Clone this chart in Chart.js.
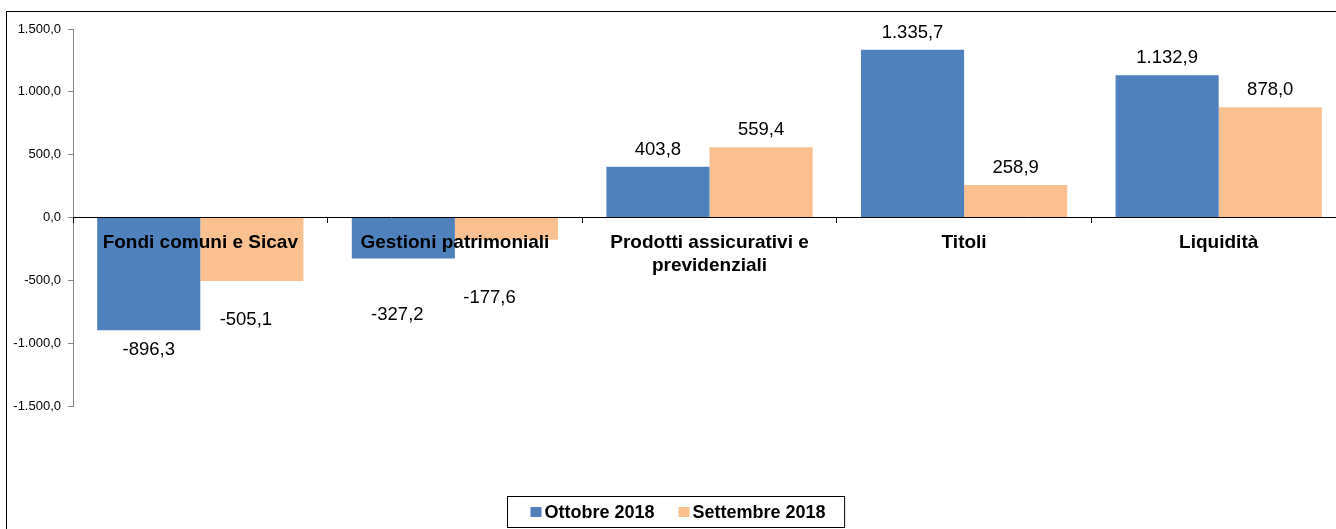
<!DOCTYPE html>
<html><head><meta charset="utf-8">
<script src="https://cdn.jsdelivr.net/npm/chart.js@4/dist/chart.umd.min.js"></script>
<style>
html,body{margin:0;padding:0;background:#fff;overflow:hidden;width:1336px;height:529px;}
#wrap{position:absolute;left:0;top:0;width:1352px;height:529px;}
</style></head><body>
<div id="wrap"><canvas id="c" width="1352" height="529"></canvas></div>
<script>
const categories = ['Fondi comuni e Sicav', 'Gestioni patrimoniali', ['Prodotti assicurativi e', 'previdenziali'], 'Titoli', 'Liquidità'];
const ottobre2018 = [-896.3, -327.2, 403.8, 1335.7, 1132.9];
const settembre2018 = [-505.1, -177.6, 559.4, 258.9, 878.0];
const seriesNames = ['Ottobre 2018', 'Settembre 2018'];
const yTicks = [-1500, -1000, -500, 0, 500, 1000, 1500];

const FONT = '"Liberation Sans", Arial, sans-serif';

function fmt(v) {
  const neg = v < 0;
  let s = Math.abs(v).toFixed(1);
  let [i, d] = s.split('.');
  i = i.replace(/\B(?=(\d{3})+(?!\d))/g, '.');
  return (neg ? '-' : '') + i + ',' + d;
}

const framePlugin = {
  id: 'framePlugin',
  beforeDraw(chart) {
    const ctx = chart.ctx;
    ctx.save();
    ctx.fillStyle = '#fff';
    ctx.fillRect(0, 0, chart.width, chart.height);
    ctx.strokeStyle = '#000';
    ctx.lineWidth = 1;
    ctx.strokeRect(6.5, 11.5, chart.width + 20, chart.height + 20);
    ctx.restore();
  },
  afterDatasetsDraw(chart, args, opts) {
    const ctx = chart.ctx;
    ctx.save();
    ctx.font = '18.5px ' + FONT;
    ctx.fillStyle = '#000';
    ctx.textAlign = 'center';
    ctx.textBaseline = 'middle';
    chart.data.datasets.forEach((ds, di) => {
      const meta = chart.getDatasetMeta(di);
      meta.data.forEach((bar, i) => {
        const v = ds.data[i];
        const sh = (opts.shift[di] && opts.shift[di][i]) || [0, 0];
        const y = v >= 0 ? bar.y - 17 : bar.y + 20;
        ctx.fillText(fmt(v), bar.x + sh[0], y + sh[1]);
      });
    });
    ctx.restore();
  },
  afterDraw(chart) {
    const ctx = chart.ctx;
    ctx.save();
    ctx.font = 'bold 18px ' + FONT;
    ctx.textBaseline = 'middle';
    ctx.textAlign = 'left';
    const items = chart.data.datasets.map(d => ({ text: d.label, color: d.backgroundColor, w: ctx.measureText(d.label).width }));
    const sq = 11, gapT = 3, gapI = 24, padL = 23, padR = 19;
    let total = 0;
    items.forEach((it, k) => { total += sq + gapT + it.w + (k ? gapI : 0); });
    const boxW = total + padL + padR;
    const bx = Math.round(chart.width / 2 - boxW / 2) + 0.5;
    const by = 496.5, bh = 31;
    ctx.strokeStyle = '#000';
    ctx.lineWidth = 1;
    ctx.strokeRect(bx, by, boxW, bh);
    let x = bx + padL;
    const cy = by + bh / 2;
    items.forEach((it, k) => {
      if (k) x += gapI;
      ctx.fillStyle = it.color;
      ctx.fillRect(x, cy - 5, sq, 10);
      x += sq + gapT;
      ctx.fillStyle = '#000';
      ctx.fillText(it.text, x, cy + 1);
      x += it.w;
    });
    ctx.restore();
  }
};

new Chart(document.getElementById('c'), {
  type: 'bar',
  data: {
    labels: categories,
    datasets: [
      { label: seriesNames[0], data: ottobre2018, backgroundColor: '#4F81BD', borderWidth: 0 },
      { label: seriesNames[1], data: settembre2018, backgroundColor: '#FAC090', borderWidth: 0 }
    ]
  },
  options: {
    responsive: false,
    animation: false,
    devicePixelRatio: 1,
    categoryPercentage: 0.81,
    barPercentage: 1,
    layout: { padding: { left: 0, right: 6, top: 29, bottom: 123 } },
    plugins: {
      legend: { display: false },
      tooltip: { enabled: false },
      framePlugin: {
        shift: [
          [[0, 0], [-6, 36], [0, 0], [0, 0], [0, 0]],
          [[-6, 19], [-17, 38], [0, 0], [0, 0], [0, 0]]
        ]
      }
    },
    scales: {
      x: {
        position: { y: 0 },
        grid: { display: true, drawOnChartArea: false, drawTicks: true, tickLength: 5, color: '#000', offset: true, z: 1 },
        border: { display: true, color: '#000', width: 1, z: 1 },
        ticks: {
          z: 1,
          color: '#000',
          padding: 9,
          maxRotation: 0,
          autoSkip: false,
          font: { family: FONT, size: 19, weight: 'bold', lineHeight: 1.2 }
        }
      },
      y: {
        min: -1500,
        max: 1500,
        afterBuildTicks: s => { s.ticks = yTicks.map(v => ({ value: v })); },
        afterFit: s => { s.width = 73; },
        grid: { display: true, drawOnChartArea: false, drawTicks: true, tickLength: 5, color: '#868686' },
        border: { display: true, color: '#868686', width: 1 },
        ticks: {
          color: '#000',
          padding: 7,
          font: { family: FONT, size: 13 },
          callback: v => fmt(v)
        }
      }
    }
  },
  plugins: [framePlugin]
});
</script>
</body></html>
